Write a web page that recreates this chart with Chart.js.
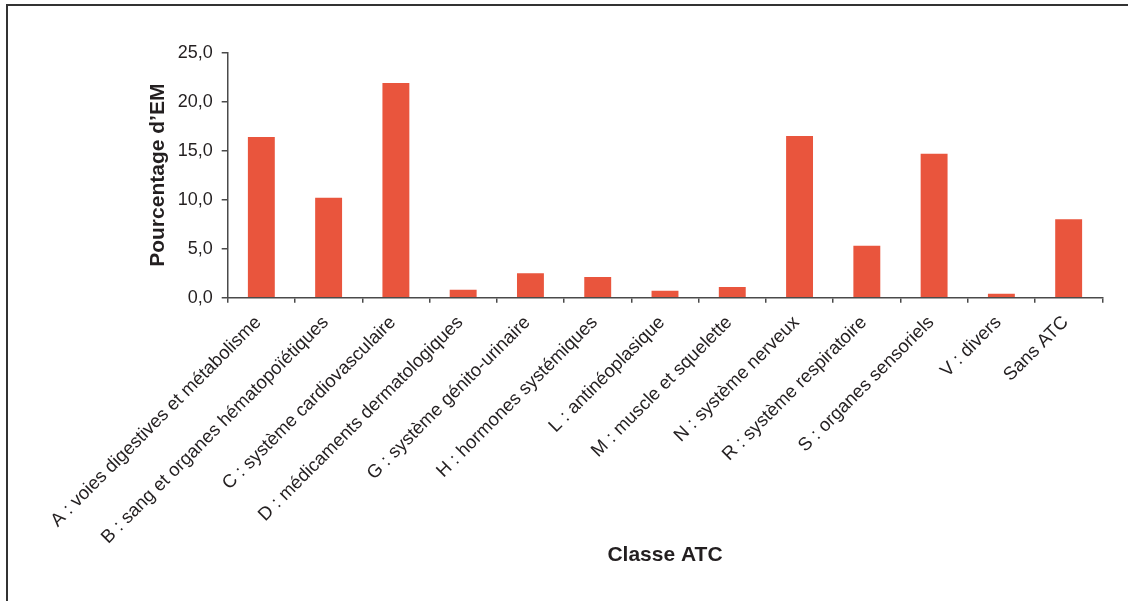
<!DOCTYPE html>
<html>
<head>
<meta charset="utf-8">
<script src="https://cdn.jsdelivr.net/npm/chart.js@4/dist/chart.umd.min.js"></script>
<style>
  html, body { margin: 0; padding: 0; background: #fff; }
  #wrap { position: relative; width: 1128px; height: 601px; overflow: hidden; }
  #frame { position: absolute; left: 6px; top: 4px; width: 1200px; height: 700px; border-left: 2px solid #333; border-top: 2px solid #333; box-sizing: border-box; }
  canvas { position: absolute; left: 0; top: 0; }
</style>
</head>
<body>
<div id="wrap">
  <div id="frame"></div>
  <canvas id="c" width="1128" height="601"></canvas>
</div>
<script>
const categories = [
  "A : voies digestives et métabolisme",
  "B : sang et organes hématopoïétiques",
  "C : système cardiovasculaire",
  "D : médicaments dermatologiques",
  "G : système génito-urinaire",
  "H : hormones systémiques",
  "L : antinéoplasique",
  "M : muscle et squelette",
  "N : système nerveux",
  "R : système respiratoire",
  "S : organes sensoriels",
  "V : divers",
  "Sans ATC"
];
const values = [16.4, 10.2, 21.9, 0.8, 2.5, 2.1, 0.7, 1.1, 16.5, 5.3, 14.7, 0.4, 8.0];
const yMin = 0, yMax = 25, yStep = 5;
const xTitle = "Classe ATC";
const yTitle = "Pourcentage d\u2019EM";

const FONT = "'Liberation Sans', Arial, Helvetica, sans-serif";
const TEXT = "#231f20";
const AXIS = "#4a4a4a";

new Chart(document.getElementById('c'), {
  type: 'bar',
  data: {
    labels: categories,
    datasets: [{
      data: values,
      backgroundColor: '#e9553d',
      borderWidth: 0,
      barPercentage: 0.4,
      categoryPercentage: 1.0
    }]
  },
  options: {
    responsive: false,
    animation: false,
    devicePixelRatio: 1,
    layout: { padding: { left: 0, right: 25.7, top: 52.7, bottom: 0 } },
    plugins: { legend: { display: false }, tooltip: { enabled: false } },
    scales: {
      x: {
        offset: true,
        grid: { offset: true, drawOnChartArea: false, drawTicks: true, tickLength: 5, color: AXIS, lineWidth: 1.5 },
        border: { display: true, color: AXIS, width: 1.5 },
        ticks: {
          autoSkip: false, maxRotation: 45, minRotation: 45,
          padding: 9,
          labelOffset: -3,
          color: TEXT,
          font: { family: FONT, size: 18.5 }
        },
        title: {
          display: true, text: xTitle, color: TEXT,
          font: { family: FONT, size: 21, weight: 'bold' },
          padding: { top: 0, bottom: 33 }
        },
        afterFit: s => { s.height = 601 - 297.7; }
      },
      y: {
        min: yMin, max: yMax,
        grid: { drawOnChartArea: false, drawTicks: true, tickLength: 6, color: AXIS, lineWidth: 1.5 },
        border: { display: true, color: AXIS, width: 1.5 },
        ticks: {
          stepSize: yStep,
          padding: 9,
          color: TEXT,
          font: { family: FONT, size: 18 },
          callback: v => v.toFixed(1).replace('.', ',')
        },
        title: {
          display: true, text: yTitle, color: TEXT,
          font: { family: FONT, size: 21, weight: 'bold' },
          padding: { top: 146, bottom: 0 }
        },
        afterFit: s => { s.width = 227.7; }
      }
    }
  }
});
</script>
</body>
</html>
